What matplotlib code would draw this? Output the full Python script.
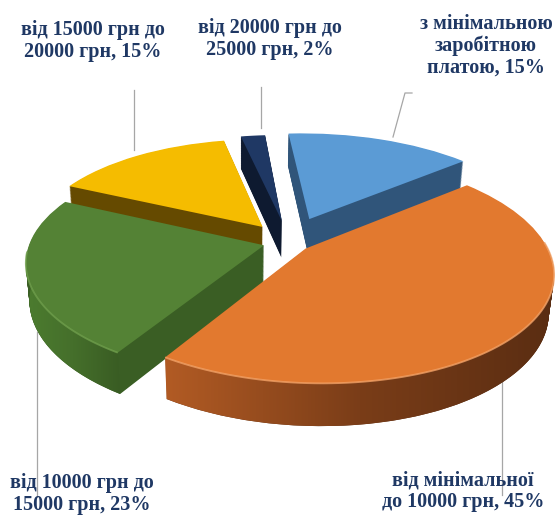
import numpy as np
import matplotlib.pyplot as plt
from matplotlib.lines import Line2D
from matplotlib.patches import Polygon
from matplotlib.transforms import Transform
from matplotlib.colors import LinearSegmentedColormap

# wage groups, clockwise from 12 o'clock
labels = ['з мінімальною\nзаробітною\nплатою, 15%',
          'від мінімальної\nдо 10000 грн, 45%',
          'від 10000 грн до\n15000 грн, 23%',
          'від 15000 грн до\n20000 грн, 15%',
          'від 20000 грн до\n25000 грн, 2%']
shares = [15, 45, 23, 15, 2]
explode = [0.24, 0.09, 0.11, 0.18, 0.2]
top_colors = ['#5B9BD5', '#E2792F', '#548235', '#F5BC00', '#1F3864']
side_colors = ['#30557A', '#5A2D12', '#3A5E24', '#654A00', '#0E1A30']
wall_grads = [['#3E6E9C', '#2C4E70'],
              ['#B25B24', '#7A3D18', '#5A2D12'],
              ['#4C7C2F', '#456F2B', '#395C23'],
              ['#8A6500', '#5A4200'],
              ['#1A2E55', '#0E1A30']]
rim_colors = ['#7DB3E3', '#F3A267', '#6F9E4C', '#FFD44D', '#3A5A90']

W, H = 555, 515
P = 236                    # px per pie radius
cx, cy = 289, 242          # pie centre in pixels (top-left origin)
SIN = 0.46
COS = np.sqrt(1 - SIN ** 2)
DIST = 5.0                 # camera distance (perspective)
XCAM = -0.45               # camera sits a little to the left
ROLL = np.radians(1.5)
DEPTH = 0.18


class Tilt(Transform):
    """Tilt the pie plane towards the viewer with some perspective."""
    input_dims = output_dims = 2
    is_separable = False
    has_inverse = False

    def __init__(self, z=0.0):
        super().__init__()
        self.z = z

    def transform_non_affine(self, values):
        xy = np.asarray(values, float)
        x, y = xy[:, 0], xy[:, 1]
        f = DIST / (DIST + y * COS - self.z * SIN)
        sx = x * f + XCAM * (1 - f)
        sy = (y * SIN + self.z * COS) * f
        return np.column_stack([sx * np.cos(ROLL) - sy * np.sin(ROLL),
                                sx * np.sin(ROLL) + sy * np.cos(ROLL)])


fig = plt.figure(figsize=(W / 100, H / 100), dpi=100)
ax = fig.add_axes([0, 0, 1, 1])

# side walls: stack of pies going downwards
n_layers = 45
for i in range(n_layers, 0, -1):
    z = -DEPTH * i / n_layers
    ws, _ = ax.pie(shares, explode=explode, colors=side_colors, startangle=90,
                   counterclock=False, wedgeprops=dict(linewidth=0))
    for w in ws:
        w.set_transform(Tilt(z) + ax.transData)
        w.set_zorder(1)

wedges, _ = ax.pie(shares, explode=explode, colors=top_colors, startangle=90,
                   counterclock=False, wedgeprops=dict(linewidth=0))
for w in wedges:
    w.set_transform(Tilt(0.0) + ax.transData)
    w.set_zorder(3)

# shaded outer walls for the part of each slice that faces the viewer
top_t, bot_t = Tilt(0.0), Tilt(-DEPTH)
for w, grad, rim in zip(wedges, wall_grads, rim_colors):
    for lo, hi in [(-180, 0), (180, 360), (-540, -360)]:
        a, b = max(w.theta1, lo), min(w.theta2, hi)
        if b - a <= 0.5:
            continue
        phi = np.radians(np.linspace(a, b, 80))
        ring = np.column_stack([w.center[0] + w.r * np.cos(phi),
                                w.center[1] + w.r * np.sin(phi)])
        top_pts = top_t.transform(ring)
        pts = np.vstack([top_pts, bot_t.transform(ring[::-1])])
        poly = Polygon(pts, closed=True, facecolor='none', edgecolor='none',
                       transform=ax.transData)
        ax.add_patch(poly)
        cmap = LinearSegmentedColormap.from_list('wall', grad)
        img = ax.imshow(np.linspace(0, 1, 256)[None, :], cmap=cmap,
                        aspect='auto', zorder=2, interpolation='bilinear',
                        extent=[pts[:, 0].min(), pts[:, 0].max(),
                                pts[:, 1].min(), pts[:, 1].max()])
        img.set_clip_path(poly)
        # soft bevel highlight along the top rim
        ax.plot(top_pts[:, 0], top_pts[:, 1], color=rim, lw=1.3,
                alpha=0.8, zorder=4, solid_capstyle='butt')

ax.set_aspect('auto')
ax.set_xlim(-cx / P, (W - cx) / P)
ax.set_ylim(-(H - cy) / P, cy / P)
ax.axis('off')

# label placement in pixels (top-left origin): text centre, leader line points
label_pos = [(486, 46), (463, 491), (82, 494), (93, 41), (270, 39)]
leaders = [[(412, 93), (405, 93), (393, 137)],
           [(502, 378), (502, 495)],
           [(37, 332), (37, 497)],
           [(134, 90), (134, 150)],
           [(261, 87), (261, 128)]]


def fx(x):
    return x / W


def fy(y):
    return 1 - y / H


for pts in leaders:
    fig.add_artist(Line2D([fx(p[0]) for p in pts], [fy(p[1]) for p in pts],
                          color='#A6A6A6', lw=0.9, transform=fig.transFigure,
                          zorder=0))

for lab, (x, y) in zip(labels, label_pos):
    fig.text(fx(x), fy(y), lab, ha='center', va='center', fontsize=14.5,
             fontweight='bold', family='Liberation Serif', color='#1F3864',
             linespacing=1.1)

fig.savefig('out.png', dpi=100)
